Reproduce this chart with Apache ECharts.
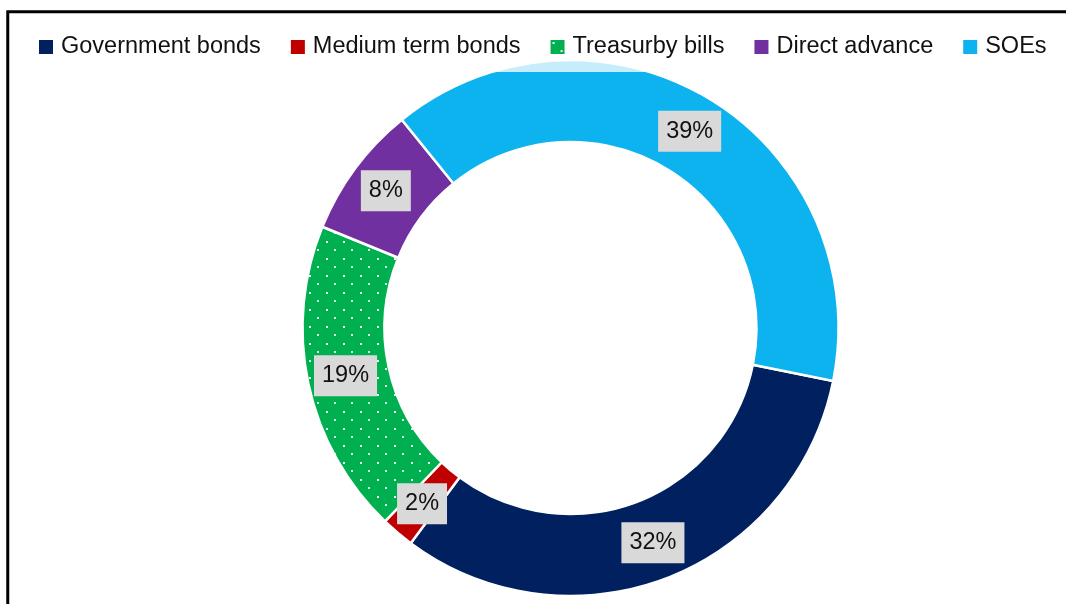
<!DOCTYPE html>
<html>
<head>
<meta charset="utf-8">
<script src="https://cdn.jsdelivr.net/npm/echarts@6/dist/echarts.min.js"></script>
<style>
  html, body { margin: 0; padding: 0; background: #ffffff; }
  #chart { width: 1066px; height: 604px; }
</style>
</head>
<body>
<div id="chart"></div>
<script>
// Composition of holdings, in percent of total
const categories = ['Government bonds', 'Medium term bonds', 'Treasurby bills', 'Direct advance', 'SOEs'];
const shares = [32, 2, 19, 8, 39];

const palette = ['#002060', '#C00000', '#00B050', '#7030A0', '#0DB3EF'];

// Dotted fill used for the treasury bills slice
function dottedTile(base) {
  const c = document.createElement('canvas');
  c.width = 17; c.height = 17;
  const g = c.getContext('2d');
  g.fillStyle = base;
  g.fillRect(0, 0, 17, 17);
  g.fillStyle = 'rgba(255,255,255,0.95)';
  g.fillRect(3, 3, 2, 2);
  g.fillStyle = 'rgba(255,255,255,0.85)';
  g.fillRect(11, 11, 2, 2);
  return c;
}

const data = categories.map((name, i) => ({
  name: name,
  value: shares[i],
  itemStyle: {
    color: i === 2 ? { image: dottedTile(palette[2]), repeat: 'repeat' } : palette[i]
  }
}));

const chart = echarts.init(document.getElementById('chart'), null, { renderer: 'canvas' });
chart.setOption({
  animation: false,
  backgroundColor: '#ffffff',
  legend: {
    z: 10,
    left: 37,
    top: 35,
    padding: 0,
    icon: 'rect',
    itemWidth: 16,
    itemHeight: 16,
    itemGap: 28,
    selectedMode: false,
    textStyle: {
      fontFamily: 'Liberation Sans, Arial, sans-serif',
      fontSize: 23.5,
      color: '#111111',
      padding: [0, 0, 0, 2]
    },
    data: categories
  },
  graphic: [
    {
      type: 'rect',
      z: 3,
      silent: true,
      shape: { x: 9, y: 13, width: 1060, height: 59 },
      style: { fill: 'rgba(255,255,255,0.77)' }
    },
    {
      type: 'rect',
      z: 20,
      silent: true,
      shape: { x: 7.75, y: 11.7, width: 1100, height: 700 },
      style: { fill: 'none', stroke: '#000000', lineWidth: 3 }
    }
  ],
  series: [
    {
      type: 'pie',
      center: [570.5, 328],
      radius: [186, 268],
      startAngle: -11.4,
      clockwise: true,
      avoidLabelOverlap: false,
      itemStyle: { borderColor: '#ffffff', borderWidth: 2.5 },
      emphasis: { disabled: true },
      label: {
        show: true,
        position: 'inside',
        formatter: '{c}%',
        fontFamily: 'Liberation Sans, Arial, sans-serif',
        fontSize: 23.5,
        lineHeight: 24,
        color: '#111111',
        backgroundColor: '#D9D9D9',
        padding: [8.5, 8]
      },
      labelLine: { show: false },
      data: data
    }
  ]
});
</script>
</body>
</html>
